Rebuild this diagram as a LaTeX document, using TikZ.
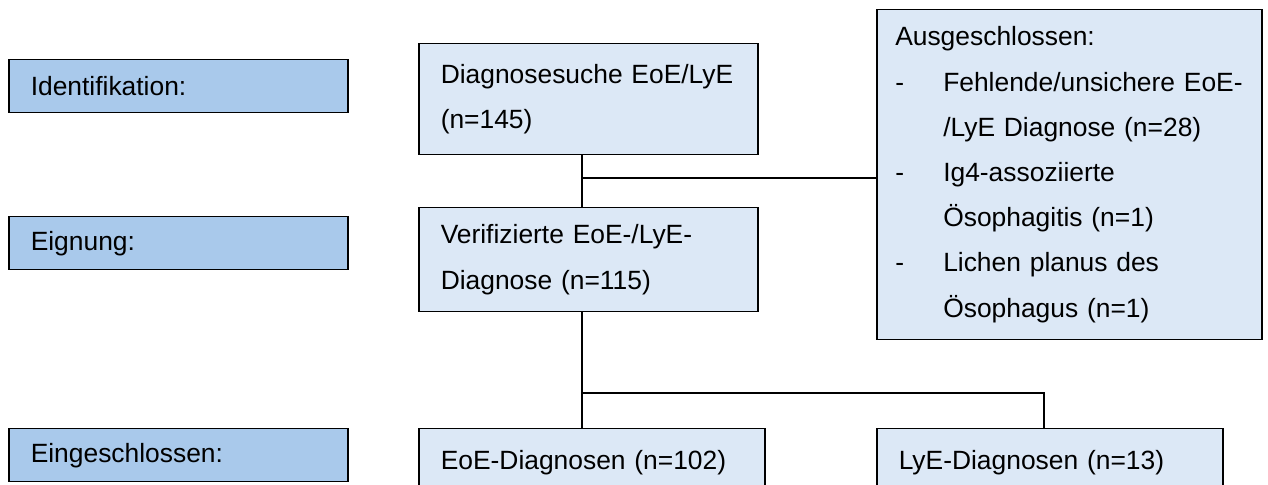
\documentclass[tikz,border=0pt]{standalone}
\usepackage{fontspec}
\setmainfont{Liberation Sans}
\usepackage{xcolor}
\usepackage{tikz}
\usetikzlibrary{positioning}
\definecolor{stagefill}{HTML}{A9C9EB}
\definecolor{boxfill}{HTML}{DCE8F6}

\begin{document}
\begin{tikzpicture}[
  x=0.5pt, y=-0.5pt,
  font=\fontsize{13.2}{22.6}\selectfont,
  stage/.style={draw, line width=0.75pt, fill=stagefill, anchor=north west, align=left,
    minimum width=169.5pt, minimum height=26.5pt, text width=147.5pt, inner xsep=11pt},
  box/.style={draw, line width=0.75pt, fill=boxfill, anchor=north west, align=left,
    inner xsep=11pt, inner ysep=0pt},
  link/.style={line width=0.75pt}
]
\clip (0,0) rectangle (1268,485);
% stages on the left
\node[stage] (ident) at (8,59) {Identifikation:};
\node[stage] (eign) at (8,216) {Eignung:};
\node[stage] (einschl) at (8,428) {Eingeschlossen:};
% flow boxes
\node[box, text width=147.5pt, minimum height=55.5pt] (diag) at (418,43)
  {Diagnosesuche EoE/LyE\\(n=145)};
\node[box, text width=147.5pt, minimum height=52pt] (verif) at (418,207)
  {Verifizierte EoE-/LyE-\\Diagnose (n=115)};
\node[box, text width=174pt, inner xsep=9.25pt, minimum height=165pt] (aus) at (876,9)
  {Ausgeschlossen:\\
   \makebox[24pt][l]{-}Fehlende/unsichere EoE-\\
   \hspace*{24pt}/LyE Diagnose (n=28)\\
   \makebox[24pt][l]{-}Ig4-assoziierte\\
   \hspace*{24pt}Ösophagitis (n=1)\\
   \makebox[24pt][l]{-}Lichen planus des\\
   \hspace*{24pt}Ösophagus (n=1)};
\node[box, text width=151pt, minimum height=34pt] (eoe) at (418,428) {EoE-Diagnosen (n=102)};
\node[box, text width=151pt, minimum height=34pt] (lye) at (876,428) {LyE-Diagnosen (n=13)};
% connectors
\coordinate (j1) at (582,178);
\coordinate (j2) at (582,393);
\coordinate (j3) at (1044,393);
\draw[link] (j1 |- diag.south) -- (j1 |- verif.north);
\draw[link] (j1) -- (j1 -| aus.west);
\draw[link] (j2 |- verif.south) -- (j2 |- eoe.north);
\draw[link] (j2) -- (j3) -- (j3 |- lye.north);
\end{tikzpicture}
\end{document}
